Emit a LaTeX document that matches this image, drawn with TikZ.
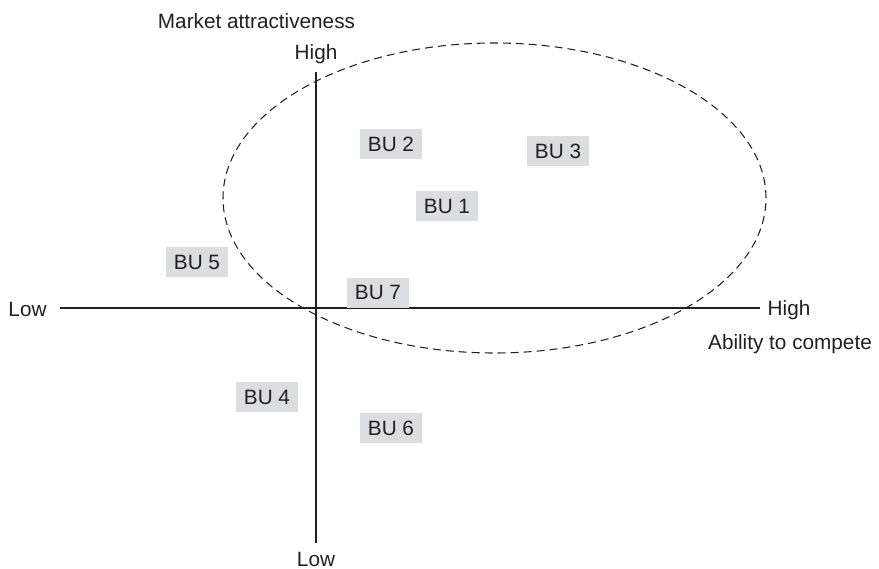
\documentclass[tikz,border=0pt]{standalone}
\usepackage{fontspec}
\setmainfont{Liberation Sans}
\usepackage{tikz}
\definecolor{inkgray}{HTML}{231F20}
\definecolor{boxgray}{HTML}{DCDDDF}
\tikzset{
    unitbox/.style={fill=boxgray, text=inkgray, minimum width=1.24cm, minimum height=0.6cm, inner sep=0pt},
    axislabel/.style={text=inkgray, anchor=base, inner sep=0pt}
}

\begin{document}
\begin{tikzpicture}[font=\fontsize{11.8}{14}\selectfont]
    \useasboundingbox (-6.32,-5.2) rectangle (11.26,6.16);

    % axes
    \coordinate (xlo) at (-5.12, 0);
    \coordinate (xhi) at (8.88, 0);
    \coordinate (ylo) at (0, -4.7);
    \coordinate (yhi) at (0, 4.72);
    \draw[inkgray, line width=0.8pt] (xlo) -- (xhi);
    \draw[inkgray, line width=0.8pt] (ylo) -- (yhi);

    % axis labels
    \node[axislabel] (mkt) at (-1.19, 5.6) {Market attractiveness};
    \node[axislabel] (yhigh) at (0, 4.98) {High};
    \node[axislabel] (ylow) at (0, -5.16) {Low};
    \node[axislabel] (xlow) at (-5.77, -0.16) {Low};
    \node[axislabel] (xhigh) at (9.46, -0.14) {High};
    \node[axislabel] (ability) at (9.48, -0.82) {Ability to compete};

    % target region
    \draw[inkgray, line width=0.6pt, dash pattern=on 0.16cm off 0.1cm]
        (3.57, 2.2) ellipse [x radius=5.43cm, y radius=3.1cm];

    % business units
    \node[unitbox] (bu1) at (2.62, 2.04) {BU 1};
    \node[unitbox] (bu2) at (1.5, 3.28) {BU 2};
    \node[unitbox] (bu3) at (4.84, 3.14) {BU 3};
    \node[unitbox] (bu4) at (-0.98, -1.78) {BU 4};
    \node[unitbox] (bu5) at (-2.38, 0.92) {BU 5};
    \node[unitbox] (bu6) at (1.5, -2.4) {BU 6};
    \node[unitbox] (bu7) at (1.24, 0.31) {BU 7};
\end{tikzpicture}
\end{document}
